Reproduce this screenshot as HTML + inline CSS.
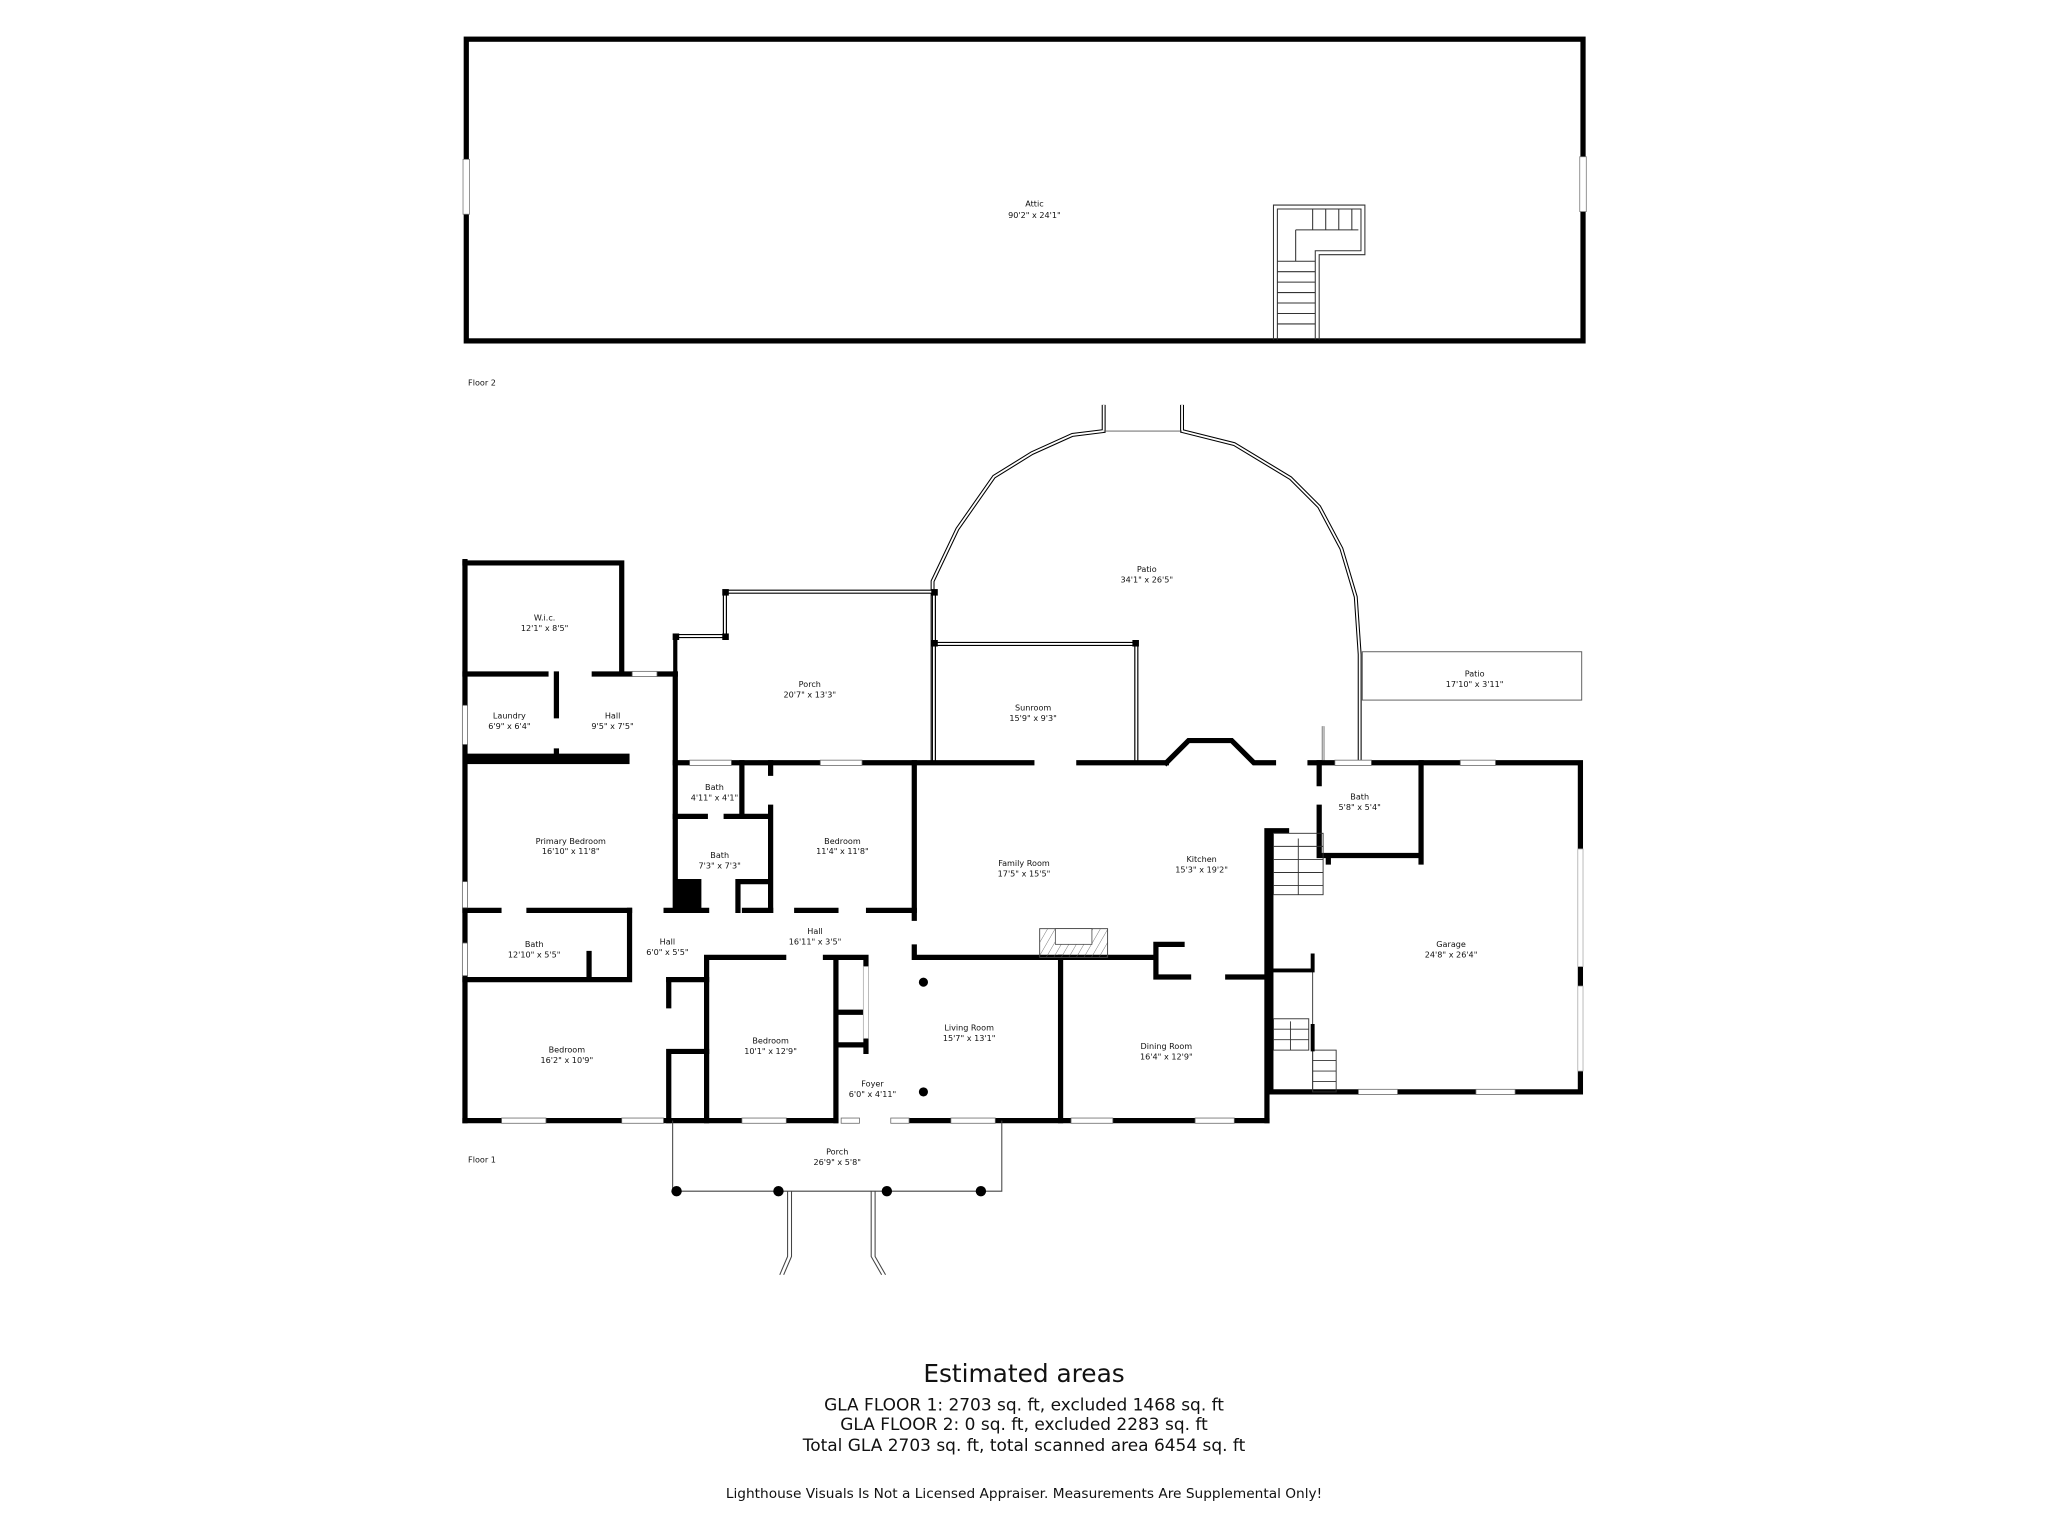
<!DOCTYPE html>
<html><head><meta charset="utf-8"><style>
html,body{margin:0;padding:0;background:#fff;}
svg{display:block;}
text{font-family:"DejaVu Sans","Liberation Sans",sans-serif;fill:#111;text-anchor:middle;}
.l{font-size:6.2px;}
</style></head><body>
<svg width="2048" height="1536" viewBox="0 0 1568 1176" xmlns="http://www.w3.org/2000/svg">
<rect width="1568" height="1176" fill="#fff"/>
<defs>
<pattern id="h" width="5" height="5" patternUnits="userSpaceOnUse" patternTransform="rotate(30)"><line x1="0" y1="0" x2="0" y2="5" stroke="#555" stroke-width="0.6"/></pattern>
</defs>
<!-- Attic -->
<rect x="357" y="30" width="855" height="231" fill="none" stroke="#000" stroke-width="4"/>
<rect x="354.5" y="122" width="5" height="42" fill="#fff" stroke="#777" stroke-width="0.6"/>
<rect x="1209.5" y="120" width="5" height="42" fill="#fff" stroke="#777" stroke-width="0.6"/>
<g fill="none" stroke="#333" stroke-width="0.8">
<path d="M975 260 V157 H1045 V195 H1010 V260"/>
<path d="M978 260 V160 H1042 V192 H1007 V260"/>
<path d="M978 200 H1007 M978 208 H1007 M978 216 H1007 M978 224 H1007 M978 232 H1007 M978 240 H1007 M978 248 H1007 M992 176 V200 M992 176 H1040 M1005 160 V176 M1015 160 V176 M1025 160 V176 M1035 160 V176"/>
</g>
<text class="l" x="792" y="158">Attic</text>
<text class="l" x="792" y="167">90'2" x 24'1"</text>
<text class="l" x="369" y="295">Floor 2</text>

<!-- Patio arc -->
<g fill="none">
<polyline points="714,583 714,445 733,405 761,365 790,347 821,333 845,330 845,310" stroke="#000" stroke-width="3"/>
<polyline points="714,583 714,445 733,405 761,365 790,347 821,333 845,330 845,310" stroke="#fff" stroke-width="1.4"/>
<polyline points="905,310 905,330 945,340 988,366 1010,388 1027,420 1038,457 1041,501 1041,583" stroke="#000" stroke-width="3"/>
<polyline points="905,310 905,330 945,340 988,366 1010,388 1027,420 1038,457 1041,501 1041,583" stroke="#fff" stroke-width="1.4"/>
<line x1="845" y1="330" x2="905" y2="330" stroke="#555" stroke-width="0.7"/>
<rect x="1043" y="499" width="168" height="37" stroke="#555" stroke-width="0.7"/>
<line x1="1013" y1="556" x2="1013" y2="583" stroke="#555" stroke-width="2"/>
<line x1="1013" y1="556" x2="1013" y2="583" stroke="#fff" stroke-width="0.8"/>
</g>

<g fill="none">
<path d="M555 453 H715 M555 453 V487 H517 V583 M715 453 V583 M715 493 H870 V583" stroke="#000" stroke-width="3.2"/>
<path d="M555 453 H715 M555 453 V487 H517 M715 453 V583 M715 493 H870 V583" stroke="#fff" stroke-width="1.4"/>
</g>
<g fill="#000">
<rect x="553" y="451" width="5" height="5"/><rect x="713" y="451" width="5" height="5"/><rect x="713" y="490" width="5" height="5"/><rect x="867" y="490" width="5" height="5"/><rect x="515" y="485" width="5" height="5"/><rect x="553" y="485" width="5" height="5"/>
</g>

<g fill="none" stroke="#000" stroke-width="4" stroke-linecap="square">
<path d="M356 430 V858"/>
<path d="M356 431 H476 V515"/>
<path d="M356 516 H418 M455 516 H484 M503 516 H517"/>
<path d="M426 516 V548 M426 575 V580"/>
<path d="M517 516 V697"/>
<path d="M517 584 H528 M560 584 H628 M660 584 H790 M826 584 H893"/>
<path d="M893 584 L910 567 H943 L960 584 H975 M1003 584 H1022 M1050 584 H1118 M1145 584 H1210 V650 M1210 740 V755 M1210 820 V836 H1160 M1130 836 H1070 M1040 836 H973"/>
<path d="M973 636 V836 M970 636 V858 M973 636 H985"/>
<path d="M1010 584 V600 M1010 618 V655 H1088 M1088 584 V660 M1017 655 V660"/>
<path d="M700 584 V703 M700 725 V733 H885 M885 723 V748 H910 M940 748 H970 M885 723 H905"/>
<path d="M356 697 H382 M405 697 H482 M510 697 H541 M570 697 H590 M610 697 H640 M665 697 H700"/>
<path d="M568 584 V625 M517 625 H540 M556 625 H590 M590 584 V592 M590 618 V697 M565 697 V675 H590"/>
<path d="M482 697 V750 M356 750 H482 M512 750 H541 M451 730 V750"/>
<path d="M541 733 H600 M632 733 H663 M541 733 V858 M640 733 V858 M663 733 V740 M640 775 H663 M640 800 H663 M663 795 V805"/>
<path d="M512 750 V770 M512 805 V858 M512 805 H541"/>
<path d="M812 733 V858"/>
<path d="M356 858 H384 M418 858 H476 M508 858 H568 M602 858 H640 M696 858 H728 M762 858 H820 M852 858 H915 M945 858 H970"/>
</g>
<rect x="356" y="577" width="126" height="8" fill="#000"/>
<rect x="517" y="673" width="20" height="24" fill="#000"/>
<g fill="#fff" stroke="#666" stroke-width="0.6">
<rect x="484" y="514" width="19" height="4"/><rect x="528" y="582" width="32" height="4"/><rect x="628" y="582" width="32" height="4"/><rect x="1022" y="582" width="28" height="4"/><rect x="1118" y="582" width="27" height="4"/>
<rect x="384" y="856" width="34" height="4"/><rect x="476" y="856" width="32" height="4"/><rect x="568" y="856" width="34" height="4"/><rect x="728" y="856" width="34" height="4"/><rect x="820" y="856" width="32" height="4"/><rect x="915" y="856" width="30" height="4"/><rect x="644" y="856" width="14" height="4"/><rect x="682" y="856" width="14" height="4"/>
<rect x="1040" y="834" width="30" height="4"/><rect x="1130" y="834" width="30" height="4"/>
<rect x="354" y="540" width="4" height="30"/><rect x="354" y="675" width="4" height="20"/><rect x="354" y="722" width="4" height="25"/>
<rect x="1208" y="650" width="4" height="90" stroke="#aaa"/><rect x="1208" y="755" width="4" height="65" stroke="#aaa"/>
<rect x="661" y="740" width="4" height="55" stroke="#aaa"/>
</g>
<rect x="796" y="711" width="52" height="22" fill="url(#h)" stroke="#444" stroke-width="0.7"/>
<rect x="808" y="711" width="28" height="12" fill="#fff" stroke="#444" stroke-width="0.6"/>
<g fill="none" stroke="#333" stroke-width="0.7">
<rect x="975" y="638" width="38" height="47"/><path d="M975 648 H1013 M975 658 H1013 M975 668 H1013 M975 678 H1013 M994 642 V685"/>
<rect x="975" y="780" width="27" height="24"/><path d="M975 788 H1002 M975 796 H1002 M988 782 V804"/>
<rect x="1005" y="804" width="18" height="32"/><path d="M1005 812 H1023 M1005 820 H1023 M1005 828 H1023 M1008 820 H1018"/>
<path d="M973 743 H1005 V836"/>
</g>
<path d="M973 743 H1005 V730 M1005 784 V805" stroke="#000" stroke-width="3" fill="none"/>
<g fill="none" stroke="#444" stroke-width="0.8">
<path d="M515 858 V912 H767 V858"/>
<path d="M603 912 V962 L597 976 M606 912 V962 L600 976 M667 912 V962 L675 976 M670 912 V962 L678 976"/>
</g>
<g fill="#000"><circle cx="518" cy="912" r="4"/><circle cx="596" cy="912" r="4"/><circle cx="679" cy="912" r="4"/><circle cx="751" cy="912" r="4"/><circle cx="707" cy="752" r="3.5"/><circle cx="707" cy="836" r="3.5"/></g>

<g class="l">
<text x="878" y="438">Patio</text><text x="878" y="446">34'1" x 26'5"</text>
<text x="1129" y="518">Patio</text><text x="1129" y="526">17'10" x 3'11"</text>
<text x="417" y="475">W.i.c.</text><text x="417" y="483">12'1" x 8'5"</text>
<text x="390" y="550">Laundry</text><text x="390" y="558">6'9" x 6'4"</text>
<text x="469" y="550">Hall</text><text x="469" y="558">9'5" x 7'5"</text>
<text x="620" y="526">Porch</text><text x="620" y="534">20'7" x 13'3"</text>
<text x="791" y="544">Sunroom</text><text x="791" y="552">15'9" x 9'3"</text>
<text x="547" y="605">Bath</text><text x="547" y="613">4'11" x 4'1"</text>
<text x="551" y="657">Bath</text><text x="551" y="665">7'3" x 7'3"</text>
<text x="437" y="646">Primary Bedroom</text><text x="437" y="654">16'10" x 11'8"</text>
<text x="645" y="646">Bedroom</text><text x="645" y="654">11'4" x 11'8"</text>
<text x="784" y="663">Family Room</text><text x="784" y="671">17'5" x 15'5"</text>
<text x="920" y="660">Kitchen</text><text x="920" y="668">15'3" x 19'2"</text>
<text x="1041" y="612">Bath</text><text x="1041" y="620">5'8" x 5'4"</text>
<text x="1111" y="725">Garage</text><text x="1111" y="733">24'8" x 26'4"</text>
<text x="409" y="725">Bath</text><text x="409" y="733">12'10" x 5'5"</text>
<text x="511" y="723">Hall</text><text x="511" y="731">6'0" x 5'5"</text>
<text x="624" y="715">Hall</text><text x="624" y="723">16'11" x 3'5"</text>
<text x="590" y="799">Bedroom</text><text x="590" y="807">10'1" x 12'9"</text>
<text x="434" y="806">Bedroom</text><text x="434" y="814">16'2" x 10'9"</text>
<text x="742" y="789">Living Room</text><text x="742" y="797">15'7" x 13'1"</text>
<text x="893" y="803">Dining Room</text><text x="893" y="811">16'4" x 12'9"</text>
<text x="668" y="832">Foyer</text><text x="668" y="840">6'0" x 4'11"</text>
<text x="641" y="884">Porch</text><text x="641" y="892">26'9" x 5'8"</text>
<text x="369" y="890">Floor 1</text>
</g>
<text x="784" y="1058" style="font-size:19px">Estimated areas</text>
<text x="784" y="1080" style="font-size:13px">GLA FLOOR 1: 2703 sq. ft, excluded 1468 sq. ft</text>
<text x="784" y="1095" style="font-size:13px">GLA FLOOR 2: 0 sq. ft, excluded 2283 sq. ft</text>
<text x="784" y="1111" style="font-size:13px">Total GLA 2703 sq. ft, total scanned area 6454 sq. ft</text>
<text x="784" y="1147" style="font-size:10.5px">Lighthouse Visuals Is Not a Licensed Appraiser. Measurements Are Supplemental Only!</text>
</svg>
</body></html>
